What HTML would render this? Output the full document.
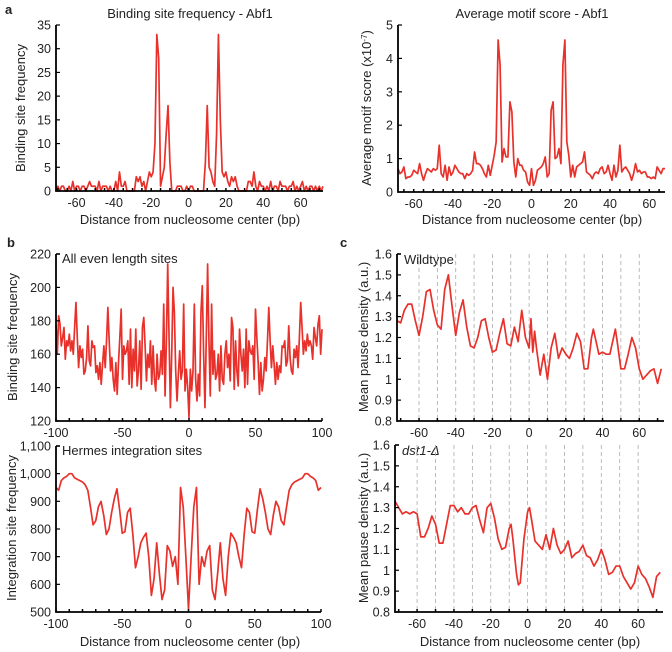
<!DOCTYPE html>
<html><head><meta charset="utf-8"><style>
html,body{margin:0;padding:0;background:#fff;}
svg{display:block;font-family:"Liberation Sans",Arial,sans-serif;}
</style></head><body>
<svg id="fig" width="672" height="652" viewBox="0 0 672 652">
<g id="static" font-size="13" fill="#222">
<text x="5" y="14" font-weight="bold" font-size="13">a</text>
<text x="7" y="247" font-weight="bold" font-size="13">b</text>
<text x="340" y="247" font-weight="bold" font-size="13">c</text>
<text x="190" y="18" text-anchor="middle">Binding site frequency - Abf1</text>
<text x="532" y="18" text-anchor="middle">Average motif score - Abf1</text>
<text x="190" y="224" text-anchor="middle">Distance from nucleosome center (bp)</text>
<text x="532" y="224" text-anchor="middle">Distance from nucleosome center (bp)</text>
<text x="190" y="646" text-anchor="middle">Distance from nucleosome center (bp)</text>
<text x="530" y="646" text-anchor="middle">Distance from nucleosome center (bp)</text>
<text transform="translate(25,108) rotate(-90)" text-anchor="middle">Binding site frequency</text>
<text transform="translate(371,108) rotate(-90)" text-anchor="middle">Average motif score (x10<tspan dy="-4" font-size="8">-7</tspan><tspan dy="4">)</tspan></text>
<text transform="translate(17,337) rotate(-90)" text-anchor="middle">Binding site frequency</text>
<text transform="translate(16,528) rotate(-90)" text-anchor="middle">Integration site frequency</text>
<text transform="translate(368,337) rotate(-90)" text-anchor="middle">Mean pause density (a.u.)</text>
<text transform="translate(368,528) rotate(-90)" text-anchor="middle">Mean pause density (a.u.)</text>
<text x="62" y="263" font-size="13">All even length sites</text>
<text x="62" y="455" font-size="13">Hermes integration sites</text>
<text x="404" y="264" font-size="13">Wildtype</text>
<text x="402" y="455" font-size="13" font-style="italic">dst1-Δ</text>
</g>
</svg>
<script>
// Panel a1: binding site frequency Abf1, x from -71 step 1
const a1Start = -71;
const a1Values = [0,1,0,1,1,0,0,1,0,2,0,1,
1,0,1,1,0,1,2,1,1,1,0,2,0,1,1,1,0,1,0,0,
2,0,4,1,1,2,0,0,0,0,
0,3,2,3,1,2,0,2,4,3,
4,10,33,28,1,3,5,12,18,6,
0,0,0,1,1,1,0,0,1,0,1,1,0,0,0,0,0,0,6,
18,5,4,2,1,12,33,15,4,3,4,
2,1,3,2,3,1,0,0,0,0,0,2,2,1,4,1,0,2,1,1,
0,1,0,2,0,1,1,0,2,1,1,1,0,1,1,2,0,1,0,1,
2,0,1,0,1,1,0,1,0,1,0,1];
const a1YTicks = [0,5,10,15,20,25,30,35];
const a1XTicks = [-60,-40,-20,0,20,40,60];

// Panel a2: average motif score, x from -68 step 1
const a2Start = -68;
const a2Values = [.7,.55,.6,.75,.4,.45,.45,.5,.65,.6,.55,.85,.55,.35,.55,.7,.65,.6,.7,.65,
.7,1.4,.55,.45,.8,.35,.75,.5,.6,.8,.7,.6,.55,.55,.4,.55,.5,.55,.65,1.2,
.85,.85,.8,.7,.55,.45,.8,.5,.8,1.1,
1.5,4.55,3.8,.9,1.3,1.05,1.05,2.7,2.4,.9,
.45,1.0,.8,.8,.65,.6,.3,.2,.7,.2,.35,.65,.7,.75,.85,1.05,.45,
.55,2.45,2.7,1.0,1.05,1.3,.85,3.8,4.55,1.5,
1.1,.45,.8,.45,.75,.8,.85,.9,1.2,.6,
.55,.5,.4,.55,.6,.55,.7,.75,.55,.6,.8,.55,.35,.8,.45,.65,1.4,.6,.7,.75,
.65,.55,.35,.55,.85,.6,.65,.55,.6,.6,.45,.45,.4,.45,.4,.75,.65,.55,.7,.7];
const a2YTicks = [0,1,2,3,4,5];
const a2XTicks = [-60,-40,-20,0,20,40,60];

// Panel b1: all even length sites, x from -100 step 1
const b1Start = -100;
const b1Values = [178,160,183,178,165,170,176,157,168,165,
172,162,168,160,176,191,170,152,165,158,
163,148,150,158,177,156,153,168,164,165,
149,153,145,155,142,154,165,152,168,188,
168,150,158,145,138,155,136,155,170,187,
145,165,160,162,168,142,175,140,163,150,
175,141,150,168,139,176,182,165,144,160,
152,168,142,165,145,138,160,145,148,162,
148,190,135,168,214,170,128,160,200,185,
150,132,148,162,145,150,190,138,151,140,
122,151,138,150,190,145,132,148,135,185,
201,160,128,170,214,168,135,190,148,162,
145,148,160,138,165,145,142,160,168,152,
160,144,182,176,139,168,150,141,175,160,
150,163,140,175,142,168,162,160,165,145,
187,170,155,136,155,138,145,158,150,168,
188,168,152,165,154,142,155,145,153,149,
165,164,168,153,156,177,158,150,148,163,
158,165,152,170,191,176,160,168,162,172,
165,168,165,157,176,170,165,178,183,160,175];
const b1YTicks = [120,140,160,180,200,220];
const bXTicks = [-100,-50,0,50,100];

// Panel b2: Hermes integration sites, x from -100 step 2
const b2Start = -100;
const b2Values = [950,940,975,985,990,1000,1000,985,980,975,
970,960,940,880,815,830,880,900,850,780,
800,860,910,945,870,785,790,860,875,780,
660,700,750,770,785,700,560,620,750,640,
545,580,740,720,665,700,600,950,880,700,
510,
700,880,950,600,700,665,720,740,580,545,
640,750,620,560,700,785,770,750,700,660,
780,875,860,790,785,870,945,910,860,800,
780,850,900,880,830,815,880,940,960,970,
975,980,985,1000,1000,990,985,975,940,950];
const b2YTicks = [500,600,700,800,900,1000,1100];
const b2YLabels = ["500","600","700","800","900","1,000","1,100"];

// Panel c1: wildtype pause density
const c1X = [-72,-70,-68,-66,-64,-62,-60,-58,-56,-54,-52,-50,-48,-46,-44,-42,-40,-38,-36,-34,-32,-30,-28,-26,-24,-22,-20,-18,-16,-14,-12,-10,-8,-6,-4,-2,0,1,2,3,4,6,8,10,12,14,16,18,20,22,24,26,28,30,32,34,35,36,38,40,42,44,46,47,48,50,52,54,56,58,60,62,64,66,68,70,72];
const c1Y = [1.28,1.27,1.33,1.36,1.36,1.28,1.21,1.30,1.42,1.43,1.33,1.26,1.24,1.43,1.50,1.35,1.21,1.32,1.38,1.25,1.16,1.15,1.20,1.28,1.29,1.20,1.13,1.14,1.22,1.29,1.17,1.16,1.25,1.18,1.33,1.20,1.15,1.29,1.13,1.23,1.15,1.02,1.12,1.00,1.15,1.22,1.10,1.15,1.12,1.10,1.15,1.22,1.18,1.05,1.05,1.20,1.24,1.20,1.12,1.13,1.12,1.12,1.20,1.24,1.18,1.05,1.05,1.12,1.20,1.15,1.05,1.00,1.02,1.04,1.05,0.98,1.05];

// Panel c2: dst1-delta pause density
const c2X = [-72,-70,-68,-66,-64,-62,-60,-58,-56,-54,-52,-50,-48,-46,-44,-42,-40,-38,-36,-34,-32,-30,-28,-26,-24,-22,-20,-18,-16,-14,-12,-10,-9,-8,-6,-5,-4,-2,0,1,2,4,6,8,10,12,14,16,18,20,22,24,26,28,30,32,34,36,38,40,42,44,46,48,50,52,54,56,58,60,62,64,66,68,70,72];
const c2Y = [1.33,1.30,1.27,1.28,1.27,1.28,1.27,1.16,1.16,1.20,1.26,1.22,1.13,1.13,1.22,1.31,1.31,1.28,1.30,1.27,1.27,1.30,1.31,1.24,1.18,1.30,1.32,1.25,1.15,1.10,1.11,1.20,1.22,1.15,0.98,0.93,0.94,1.15,1.28,1.30,1.25,1.14,1.12,1.10,1.17,1.10,1.20,1.12,1.08,1.10,1.14,1.06,1.08,1.09,1.12,1.07,1.06,1.02,1.05,1.10,1.05,0.98,0.99,1.02,1.02,0.97,0.94,0.91,0.94,1.02,0.98,0.96,0.92,0.87,0.97,0.99];
const cYTicks = [0.8,0.9,1.0,1.1,1.2,1.3,1.4,1.5,1.6];
const cYLabels = ["0.8","0.9","1","1.1","1.2","1.3","1.4","1.5","1.6"];
const cXTicks = [-60,-40,-20,0,20,40,60];
const cGrid = [-60,-50,-40,-30,-20,-10,0,10,20,30,40,50,60];

const NS = "http://www.w3.org/2000/svg";
const svg = document.getElementById('fig');
function mk(tag, attrs, parent){
  const e = document.createElementNS(NS, tag);
  for (const k in attrs) e.setAttribute(k, attrs[k]);
  (parent||svg).appendChild(e);
  return e;
}
function panel(cfg){
  const g = mk('g', {});
  
  
  const sx = v => cfg.L + (v - cfg.xmin) / (cfg.xmax - cfg.xmin) * (cfg.R - cfg.L);
  const sy = v => cfg.B - (v - cfg.ymin) / (cfg.ymax - cfg.ymin) * (cfg.B - cfg.T);
  if (cfg.grid) {
    cfg.grid.forEach(v => {
      const l = mk('line', {x1:sx(v), x2:sx(v), y1:cfg.T, y2:cfg.B, stroke:'#aaa', 'stroke-width':0.8, 'stroke-dasharray':'4,3'}, g);
      
      
    });
  }
  let d = '';
  cfg.xs.forEach((x, i) => { d += (i ? 'L' : 'M') + sx(x).toFixed(2) + ',' + sy(cfg.ys[i]).toFixed(2); });
  const p = mk('path', {d:d, fill:'none', stroke:'#e8312b', 'stroke-width':1.7, 'stroke-linejoin':'round'}, g);
  
  
  const ax = mk('path', {d:`M${cfg.L},${cfg.T}V${cfg.B}H${cfg.R}`, fill:'none', stroke:'#000', 'stroke-width':1.8}, g);
  
  
  if (cfg.topTick) mk('line', {x1:cfg.L, x2:cfg.L+4, y1:cfg.T, y2:cfg.T, stroke:'#000', 'stroke-width':1.5}, g);
  for (let v = cfg.minorStart; v <= cfg.xmax; v += cfg.minorStep) {
    mk('line', {x1:sx(v), x2:sx(v), y1:cfg.B, y2:cfg.B-3, stroke:'#000', 'stroke-width':1.5}, g);
  }
  cfg.yTicks.forEach((v, i) => {
    mk('line', {x1:cfg.L, x2:cfg.L+4, y1:sy(v), y2:sy(v), stroke:'#000', 'stroke-width':1.2}, g);
    const t = mk('text', {x:cfg.L-5, y:sy(v)+4.5, 'text-anchor':'end', 'font-size':12.5, fill:'#222'}, g);
    
    
    t.textContent = cfg.yLabels ? cfg.yLabels[i] : String(v);
  });
  cfg.xTicks.forEach(v => {
    const t = mk('text', {x:sx(v), y:cfg.B+16, 'text-anchor':'middle', 'font-size':12.5, fill:'#222'}, g);
    
    
    t.textContent = String(v);
  });
}
const a1X = a1Values.map((_, i) => a1Start + i);
const a2X = a2Values.map((_, i) => a2Start + i);
const b1X = b1Values.map((_, i) => b1Start + i);
const b2X = b2Values.map((_, i) => b2Start + 2*i);
panel({name:'chart-binding-abf1', L:56, R:323, T:25, B:191, xmin:-71, xmax:72, ymin:0, ymax:35, xs:a1X, ys:a1Values, yTicks:a1YTicks, xTicks:a1XTicks, minorStart:-70, minorStep:5});
panel({name:'chart-motif-abf1', L:398, R:665, T:25, B:192, xmin:-68, xmax:68, ymin:0, ymax:5, xs:a2X, ys:a2Values, yTicks:a2YTicks, xTicks:a2XTicks, minorStart:-65, minorStep:5});
panel({name:'chart-even-sites', L:56, R:322, T:254, B:421, xmin:-100, xmax:100, ymin:120, ymax:220, xs:b1X, ys:b1Values, yTicks:b1YTicks, xTicks:bXTicks, minorStart:-100, minorStep:10, topTick:true});
panel({name:'chart-hermes', L:56, R:321, T:446, B:612, xmin:-100, xmax:100, ymin:500, ymax:1100, xs:b2X, ys:b2Values, yTicks:b2YTicks, yLabels:b2YLabels, xTicks:bXTicks, minorStart:-100, minorStep:10, topTick:true});
panel({name:'chart-wildtype', L:397, R:664, T:254, B:421, xmin:-72, xmax:73.5, ymin:0.8, ymax:1.6, xs:c1X, ys:c1Y, yTicks:cYTicks, yLabels:cYLabels, xTicks:cXTicks, minorStart:-70, minorStep:10, grid:cGrid, topTick:true});
panel({name:'chart-dst1', L:395, R:663, T:445, B:612, xmin:-72, xmax:73.5, ymin:0.8, ymax:1.6, xs:c2X, ys:c2Y, yTicks:cYTicks, yLabels:cYLabels, xTicks:cXTicks, minorStart:-70, minorStep:10, grid:cGrid, topTick:true});
</script>
</body></html>
